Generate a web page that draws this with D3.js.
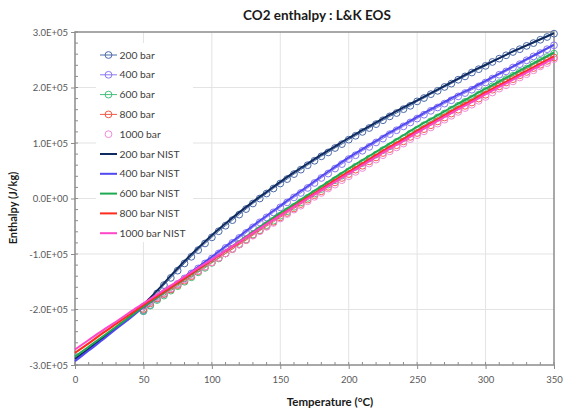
<!DOCTYPE html>
<html><head><meta charset="utf-8">
<script src="https://cdn.jsdelivr.net/npm/d3@7"></script>
<style>
body{margin:0;background:#fff}
svg{display:block}
text{font-family:Lato,"Open Sans","Liberation Sans",sans-serif}
</style>
</head><body>
<svg id="chart" width="563" height="411"></svg>
<script>
// Temperature grids, °C
const nistTemps = d3.range(0, 351, 10);
const eosTemps = d3.range(50, 351, 5);

// NIST reference enthalpy, kJ/kg (every 10 °C from 0 to 350)
const nist200 = [-289,-271,-252,-233,-213,-191,-166,-139,-113,-89,-66,-45,-25,-6,12,30,47,63,79,94,109,123,137,151,164,177,190,203,216,229,241,253,265,276,287,298];
const nist400 = [-293,-274,-255,-235,-216,-196,-178,-160,-141,-123,-105,-86,-68,-49,-31,-13,5,22,40,57,74,89,104,119,133,147,161,174,187,199,212,225,238,251,264,277];
const nist600 = [-285,-267,-249,-231,-213,-195,-178,-161,-145,-128,-111,-94,-77,-60,-43,-26,-10,6,22,38,54,69,84,99,114,129,143,157,171,184,198,211,224,237,250,263];
const nist800 = [-278,-261,-243,-226,-209,-192,-176,-160,-144,-127,-111,-95,-79,-62,-46,-30,-14,2,17,33,48,63,78,93,107,122,136,150,164,177,191,204,217,230,243,256];
const nist1000 = [-272,-255,-238,-222,-205,-189,-173,-157,-141,-125,-110,-94,-78,-62,-46,-31,-15,0,15,30,45,60,75,90,104,119,133,147,161,174,188,201,214,227,240,253];

// L&K EOS enthalpy, kJ/kg (every 5 °C from 50 to 350)
const eos200 = [-201,-186,-171,-156,-143,-130,-117,-105,-93,-81,-70,-59,-49,-39,-29,-19,-9,0,9,18,27,35,44,52,60,68,76,83,91,98,106,113,120,127,134,141,148,154,161,167,175,181,188,194,201,207,214,220,227,233,239,246,252,258,264,269,275,280,286,291,297];
const eos400 = [-203,-192,-181,-172,-163,-154,-144,-135,-126,-117,-108,-99,-89,-80,-71,-62,-52,-43,-34,-25,-16,-7,2,10,19,28,37,45,54,62,71,78,86,93,101,108,116,123,130,137,144,151,158,164,171,177,184,190,196,202,209,216,223,229,236,242,249,256,262,269,276];
const eos600 = [-203,-193,-183,-175,-166,-158,-150,-142,-133,-125,-116,-108,-99,-91,-82,-74,-65,-57,-48,-40,-31,-23,-15,-7,1,9,17,25,33,41,49,57,64,72,79,87,94,102,109,117,124,132,139,146,153,160,167,174,180,187,194,202,208,215,221,228,234,242,248,255,261];
const eos800 = [-199,-189,-180,-172,-164,-156,-148,-140,-131,-123,-115,-107,-99,-91,-83,-75,-66,-58,-50,-42,-34,-26,-18,-10,-2,6,13,21,29,37,44,52,59,67,74,82,89,96,103,111,118,125,132,139,146,153,160,167,173,180,187,196,202,209,215,222,228,235,241,248,254];
const eos1000 = [-195,-186,-178,-170,-162,-154,-146,-138,-130,-123,-115,-107,-99,-91,-83,-75,-67,-59,-51,-44,-36,-28,-20,-13,-5,3,10,18,25,33,40,48,55,63,70,78,85,92,99,107,114,121,128,135,142,149,156,163,169,176,183,191,198,204,211,218,224,231,238,244,251];

// Axis ticks
const xTicks = [0, 50, 100, 150, 200, 250, 300, 350];
const xMinor = d3.range(0, 351, 10);
const yTicks = [-300000, -200000, -100000, 0, 100000, 200000, 300000];
const yTickLabels = ["-3.0E+05", "-2.0E+05", "-1.0E+05", "0.0E+00", "1.0E+05", "2.0E+05", "3.0E+05"];
const yMinor = d3.range(-300000, 300001, 20000);

const eosSeries = [
  {name: "200 bar", vals: eos200, color: "#4a6aa6", joined: true},
  {name: "400 bar", vals: eos400, color: "#8a78f2", joined: true},
  {name: "600 bar", vals: eos600, color: "#45c07a", joined: true},
  {name: "800 bar", vals: eos800, color: "#f25a48", joined: true},
  {name: "1000 bar", vals: eos1000, color: "#f08ad8", joined: false}
];
const nistSeries = [
  {name: "200 bar NIST", vals: nist200, color: "#0f2a5e"},
  {name: "400 bar NIST", vals: nist400, color: "#5048f0"},
  {name: "600 bar NIST", vals: nist600, color: "#1eaa50"},
  {name: "800 bar NIST", vals: nist800, color: "#ff2b1c"},
  {name: "1000 bar NIST", vals: nist1000, color: "#ff45c8"}
];

const svg = d3.select("#chart");
const plot = {left: 75, right: 554, top: 32, bottom: 365};
const x = d3.scaleLinear().domain([0, 350]).range([plot.left, plot.right]);
const y = d3.scaleLinear().domain([-300000, 300000]).range([plot.bottom, plot.top]);
const J = v => v * 1000; // kJ/kg -> J/kg

// gridlines
const grid = svg.append("g");
grid.selectAll(".gx").data(xTicks.slice(1, -1)).join("line")
  .attr("x1", d => x(d)).attr("x2", d => x(d))
  .attr("y1", plot.top).attr("y2", plot.bottom)
  .attr("stroke", "#e3e3e3").attr("stroke-width", 1);
grid.selectAll(".gy").data(yTicks.slice(1, -1)).join("line")
  .attr("x1", plot.left).attr("x2", plot.right)
  .attr("y1", d => y(d)).attr("y2", d => y(d))
  .attr("stroke", "#e3e3e3").attr("stroke-width", 1);

// minor ticks (inside)
const tickColor = "#8c8c8c";
svg.append("g").selectAll("line").data(yMinor).join("line")
  .attr("x1", plot.left).attr("x2", plot.left + 3)
  .attr("y1", d => y(d)).attr("y2", d => y(d))
  .attr("stroke", tickColor);
svg.append("g").selectAll("line").data(xMinor).join("line")
  .attr("x1", d => x(d)).attr("x2", d => x(d))
  .attr("y1", plot.bottom).attr("y2", plot.bottom - 3)
  .attr("stroke", tickColor);

// axes
const yAxis = d3.axisLeft(y).tickValues(yTicks).tickSize(4).tickPadding(3)
  .tickFormat((d, i) => yTickLabels[i]);
const xAxis = d3.axisBottom(x).tickValues(xTicks).tickSize(4).tickPadding(7);
const gy = svg.append("g").attr("transform", `translate(${plot.left},0)`).call(yAxis);
const gx = svg.append("g").attr("transform", `translate(0,${plot.bottom})`).call(xAxis);
[gx, gy].forEach(g => {
  g.select(".domain").remove();
  g.selectAll(".tick line").attr("stroke", tickColor);
  g.selectAll(".tick text").attr("fill", "#595959").style("font-size", "9.5px")
    .style("font-family", "Lato, 'Open Sans', sans-serif");
});

// plot frame
svg.append("rect").attr("x", plot.left).attr("y", plot.top)
  .attr("width", plot.right - plot.left).attr("height", plot.bottom - plot.top)
  .attr("fill", "none").attr("stroke", "#8c8c8c").attr("stroke-width", 1.5);

// EOS series: circles (with thin joining line where used)
const eosLine = d3.line().x((d, i) => x(eosTemps[i])).y(d => y(J(d)));
const series = svg.append("g");
eosSeries.forEach(s => {
  if (s.joined) {
    series.append("path").attr("d", eosLine(s.vals)).attr("fill", "none")
      .attr("stroke", s.color).attr("stroke-width", 1);
  }
  series.append("g").selectAll("circle").data(s.vals).join("circle")
    .attr("cx", (d, i) => x(eosTemps[i])).attr("cy", d => y(J(d)))
    .attr("r", 3.4).attr("fill", "none").attr("stroke", s.color).attr("stroke-width", 1);
});

// NIST curves
const nistLine = d3.line().curve(d3.curveMonotoneX)
  .x((d, i) => x(nistTemps[i])).y(d => y(J(d)));
nistSeries.forEach(s => {
  series.append("path").attr("d", nistLine(s.vals)).attr("fill", "none")
    .attr("stroke", s.color).attr("stroke-width", 2);
});

// titles
svg.append("text").attr("x", 317).attr("y", 20).attr("text-anchor", "middle")
  .style("font-size", "13.5px").style("font-weight", "bold").attr("fill", "#1a1a1a")
  .text("CO2 enthalpy : L&K EOS");
svg.append("text").attr("x", 330).attr("y", 406).attr("text-anchor", "middle")
  .style("font-size", "11.5px").style("font-weight", "bold").attr("fill", "#1a1a1a")
  .text("Temperature (°C)");
svg.append("text").attr("transform", "translate(17,208) rotate(-90)").attr("text-anchor", "middle")
  .style("font-size", "11px").style("font-weight", "bold").attr("fill", "#1a1a1a")
  .text("Enthalpy (J/kg)");

// legend
const lg = svg.append("g");
lg.append("rect").attr("x", 96).attr("y", 43).attr("width", 97).attr("height", 199).attr("fill", "#fff");
const legendItems = [
  ...eosSeries.map(s => ({name: s.name, color: s.color, marker: true, line: s.joined, w: 1})),
  ...nistSeries.map(s => ({name: s.name, color: s.color, marker: false, line: true, w: 2}))
];
legendItems.forEach((it, i) => {
  const yy = 55 + i * 19.8;
  if (it.line) lg.append("line").attr("x1", 100).attr("x2", 117).attr("y1", yy).attr("y2", yy)
    .attr("stroke", it.color).attr("stroke-width", it.w);
  if (it.marker) lg.append("circle").attr("cx", 108.5).attr("cy", yy).attr("r", 3.4)
    .attr("fill", "none").attr("stroke", it.color);
  lg.append("text").attr("x", 119.5).attr("y", yy + 3.6).style("font-size", "10.3px")
    .attr("fill", "#404040").text(it.name);
});
</script>
</body></html>
